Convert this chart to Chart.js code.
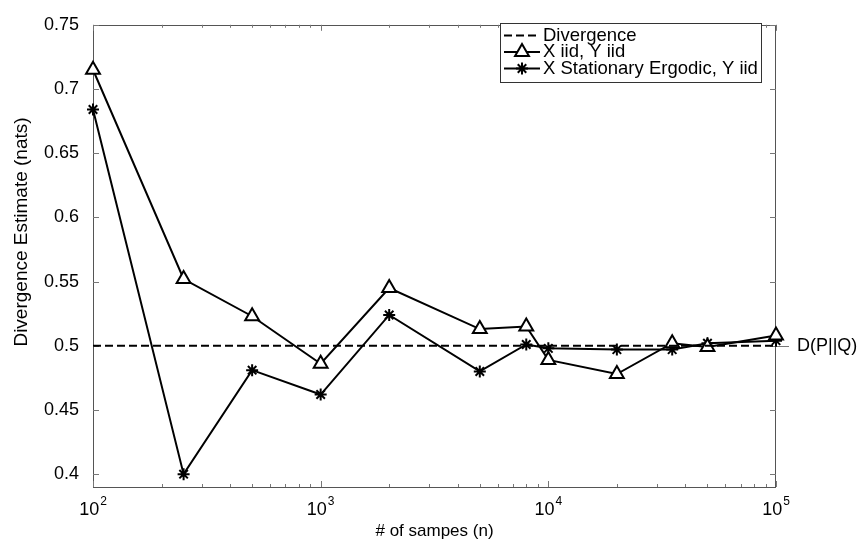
<!DOCTYPE html>
<html><head><meta charset="utf-8">
<script src="https://cdn.jsdelivr.net/npm/chart.js@4/dist/chart.umd.min.js"></script>
<style>html,body{margin:0;padding:0;background:#fff}canvas{display:block}</style>
</head><body>
<canvas id="c" width="859" height="548"></canvas>
<script>
// ---- data ----
const samples = [100, 250, 500, 1000, 2000, 5000, 8000, 10000, 20000, 35000, 50000, 100000];
const iidValues = [0.715, 0.552, 0.523, 0.486, 0.545, 0.513, 0.515, 0.489, 0.478, 0.502, 0.499, 0.508];
const ergodicValues = [0.684, 0.400, 0.481, 0.462, 0.524, 0.480, 0.501, 0.498, 0.497, 0.497, 0.502, 0.504];
const divergenceValue = 0.5;
const seriesLabels = ['Divergence', 'X iid, Y iid', 'X Stationary Ergodic, Y iid'];
const yTickValues = [0.4, 0.45, 0.5, 0.55, 0.6, 0.65, 0.7, 0.75];
const xDecades = [100, 1000, 10000, 100000];
const xExponents = ['2', '3', '4', '5'];
const xTitle = '# of sampes (n)';
const yTitle = 'Divergence Estimate (nats)';
const refLabel = 'D(P||Q)';

const FONT = '"Liberation Sans", Arial, Helvetica, sans-serif';

const framePlugin = {
  id: 'frame',
  beforeDatasetsDraw(chart) {
    const {ctx, chartArea: a, scales: {x, y}} = chart;
    ctx.save();
    ctx.strokeStyle = '#555';
    ctx.lineWidth = 1;
    ctx.strokeRect(Math.round(a.left) + 0.5, Math.round(a.top) + 0.5,
      Math.round(a.right - a.left) - 1, Math.round(a.bottom - a.top));
    ctx.strokeStyle = '#777';
    ctx.beginPath();
    for (let d = 0; d < xDecades.length; d++) {
      for (let m = 1; m <= 9; m++) {
        if (m > 1 && d === xDecades.length - 1) break;
        const v = xDecades[d] * m;
        const px = Math.round(x.getPixelForValue(v)) + 0.5;
        const len = m === 1 ? 6 : 3;
        ctx.moveTo(px, a.bottom); ctx.lineTo(px, a.bottom - len);
        ctx.moveTo(px, a.top); ctx.lineTo(px, a.top + len);
      }
    }
    yTickValues.forEach(v => {
      const py = Math.round(y.getPixelForValue(v)) + 0.5;
      ctx.moveTo(a.left, py); ctx.lineTo(a.left + 6, py);
      ctx.moveTo(a.right, py); ctx.lineTo(a.right - 6, py);
    });
    const pr = Math.round(y.getPixelForValue(divergenceValue)) + 0.5;
    ctx.moveTo(a.right, pr); ctx.lineTo(a.right + 13, pr);
    ctx.stroke();
    ctx.restore();
  },
  afterDatasetsDraw(chart) {
    const {ctx, chartArea: a, scales: {x, y}} = chart;
    ctx.save();
    ctx.fillStyle = '#000';
    xDecades.forEach((v, i) => {
      const px = x.getPixelForValue(v);
      ctx.font = '18px ' + FONT;
      const wb = ctx.measureText('10').width;
      ctx.font = '12px ' + FONT;
      const we = ctx.measureText(xExponents[i]).width;
      const start = px - (wb + we + 1) / 2;
      ctx.textAlign = 'left';
      ctx.textBaseline = 'alphabetic';
      ctx.font = '18px ' + FONT;
      ctx.fillText('10', start, 515);
      ctx.font = '12px ' + FONT;
      ctx.fillText(xExponents[i], start + wb + 1, 505);
    });
    ctx.font = '17px ' + FONT;
    ctx.textAlign = 'center';
    ctx.textBaseline = 'middle';
    ctx.fillText(xTitle, (a.left + a.right) / 2, 531);
    ctx.save();
    ctx.font = '19px ' + FONT;
    ctx.translate(22, 232);
    ctx.rotate(-Math.PI / 2);
    ctx.fillText(yTitle, 0, 0);
    ctx.restore();
    ctx.font = '18px ' + FONT;
    ctx.textAlign = 'left';
    ctx.fillText(refLabel, 797, y.getPixelForValue(divergenceValue));

    // legend
    const lx = 500, ly = 23, lw = 261, lh = 59;
    ctx.fillStyle = '#fff';
    ctx.fillRect(lx, ly, lw, lh);
    ctx.strokeStyle = '#333';
    ctx.lineWidth = 1;
    ctx.strokeRect(lx + 0.5, ly + 0.5, lw, lh);
    const rows = [35.5, 52, 68.5];
    const ds = chart.data.datasets;
    rows.forEach((ry, i) => {
      const d = ds[i];
      ctx.strokeStyle = '#000';
      ctx.lineWidth = 2;
      ctx.setLineDash(d.borderDash || []);
      ctx.beginPath();
      ctx.moveTo(504, ry); ctx.lineTo(540, ry);
      ctx.stroke();
      ctx.setLineDash([]);
      if (d.pointRadius > 0) {
        ctx.fillStyle = d.pointBackgroundColor;
        ctx.strokeStyle = '#000';
        ctx.lineWidth = d.pointBorderWidth;
        Chart.helpers.drawPoint(ctx, {pointStyle: d.pointStyle, radius: d.pointRadius, rotation: 0, borderWidth: d.pointBorderWidth}, 522, ry);
      }
      ctx.fillStyle = '#000';
      ctx.font = '18.5px ' + FONT;
      ctx.textAlign = 'left';
      ctx.textBaseline = 'middle';
      ctx.fillText(d.label, 543, ry);
    });
    ctx.restore();
  }
};

const toPts = (vals) => samples.map((s, i) => ({x: s, y: vals[i]}));

new Chart(document.getElementById('c'), {
  type: 'line',
  data: {
    datasets: [
      {
        label: seriesLabels[0],
        data: [{x: samples[0], y: divergenceValue}, {x: samples[samples.length - 1], y: divergenceValue}],
        borderColor: '#000', borderWidth: 2, borderDash: [8, 4], pointRadius: 0, fill: false, clip: false
      },
      {
        label: seriesLabels[1],
        data: toPts(iidValues),
        borderColor: '#000', borderWidth: 2, pointStyle: 'triangle', pointRadius: 8,
        pointBorderWidth: 2, pointBackgroundColor: '#fff', pointBorderColor: '#000', fill: false, clip: false
      },
      {
        label: seriesLabels[2],
        data: toPts(ergodicValues),
        borderColor: '#000', borderWidth: 2, pointStyle: 'star', pointRadius: 6,
        pointBorderWidth: 2, pointBackgroundColor: '#000', pointBorderColor: '#000', fill: false, clip: false
      }
    ]
  },
  options: {
    responsive: false,
    animation: false,
    devicePixelRatio: 1,
    layout: {padding: {left: 0, top: 13, right: 83, bottom: 0}},
    plugins: {legend: {display: false}, tooltip: {enabled: false}},
    elements: {line: {tension: 0}},
    scales: {
      x: {
        type: 'logarithmic', min: 100, max: 100000,
        grid: {display: false, drawTicks: false}, border: {display: false},
        ticks: {display: false},
        afterFit: (s) => { s.height = 61; }
      },
      y: {
        type: 'linear', min: 0.39, max: 0.75,
        grid: {display: false, drawTicks: false}, border: {display: false},
        afterBuildTicks: (s) => { s.ticks = yTickValues.map(v => ({value: v})); },
        ticks: {
          color: '#000', padding: 14,
          font: {family: FONT, size: 18},
          callback: (v) => String(+Number(v).toFixed(2))
        },
        afterFit: (s) => { s.width = 93; }
      }
    }
  },
  plugins: [framePlugin]
});
</script>
</body></html>
